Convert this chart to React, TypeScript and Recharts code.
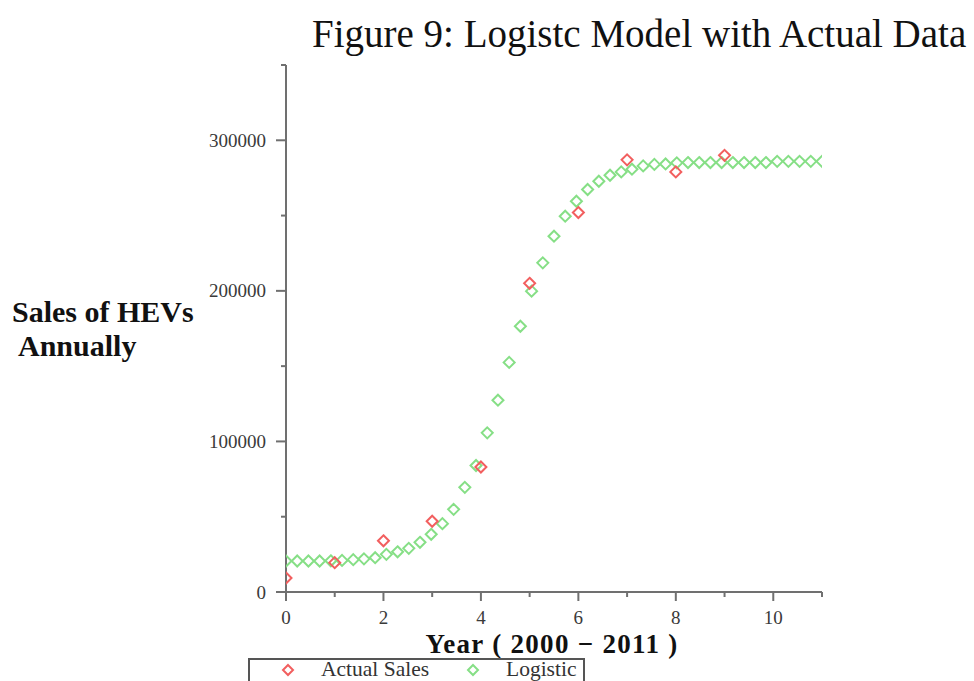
import { ScatterChart, Scatter, XAxis, YAxis, Legend } from 'recharts';

// years since 2000
const actualYears = [0, 1, 2, 3, 4, 5, 6, 7, 8, 9];
const actualSales = [9300, 19500, 34000, 47000, 83000, 205000, 252000, 287000, 279000, 290000];

// logistic fit, sampled points as plotted
const logisticX = [
  0, 0.23, 0.46, 0.69, 0.92, 1.15, 1.38, 1.6, 1.83, 2.06, 2.29, 2.52, 2.75, 2.98, 3.21, 3.44, 3.67,
  3.9, 4.13, 4.35, 4.58, 4.81, 5.04, 5.27, 5.5, 5.73, 5.96, 6.19, 6.42, 6.65, 6.88, 7.1, 7.33,
  7.56, 7.79, 8.02, 8.25, 8.48, 8.71, 8.94, 9.17, 9.4, 9.63, 9.85, 10.08, 10.31, 10.54, 10.77, 11,
];
const logisticY = [
  20600, 20600, 20600, 20600, 20700, 21000, 21500, 22000, 22800, 25000, 26700, 29000, 33000,
  38300, 45400, 54900, 69500, 84000, 105700, 127400, 152500, 176500, 199800, 218600, 236300,
  249600, 259500, 267300, 272800, 276800, 279000, 280800, 283000, 284000, 284300, 285000,
  285200, 285200, 285200, 285200, 285200, 285200, 285200, 285200, 286000, 286000, 286000,
  286000, 286000,
];

const xTicks = [0, 1, 2, 3, 4, 5, 6, 7, 8, 9, 10, 11];
const yTicks = [0, 50000, 100000, 150000, 200000, 250000, 300000, 350000];

const RED = '#f25f5f';
const GREEN = '#86df86';
const AXIS = '#707070';

const actualData = actualYears.map((x, i) => ({ x, y: actualSales[i] }));
const logisticData = logisticX.map((x, i) => ({ x, y: logisticY[i] }));

const diamond = (color: string, r = 5.5) => (props: any) => {
  const { cx, cy } = props;
  if (cx == null || cy == null) return <g />;
  return (
    <polygon
      points={`${cx},${cy - r} ${cx + r},${cy} ${cx},${cy + r} ${cx - r},${cy}`}
      fill="none"
      stroke={color}
      strokeWidth={2}
    />
  );
};

const YTick = (props: any) => {
  const { x, y, payload } = props;
  const v = payload.value as number;
  const major = v % 100000 === 0;
  return (
    <g>
      <line x1={x - (major ? 10 : 5)} x2={x} y1={y} y2={y} stroke={AXIS} strokeWidth={2} />
      {major && v <= 300000 && (
        <text x={x - 20} y={y} textAnchor="end" dominantBaseline="central"
          fontSize={19} fill="#3a3a3a" fontFamily='"Liberation Serif", serif'>
          {v}
        </text>
      )}
    </g>
  );
};

const XTick = (props: any) => {
  const { x, y, payload } = props;
  const v = payload.value as number;
  const major = v % 2 === 0 && v <= 10;
  return (
    <g>
      <line x1={x} x2={x} y1={y} y2={y + (major ? 9 : 5)} stroke={AXIS} strokeWidth={2} />
      {major && (
        <text x={x} y={y + 25} textAnchor="middle" dominantBaseline="central"
          fontSize={19} fill="#3a3a3a" fontFamily='"Liberation Serif", serif'>
          {v}
        </text>
      )}
    </g>
  );
};

const legendItems = [
  { name: 'Actual Sales', color: RED, mark: 38, text: 71 },
  { name: 'Logistic', color: GREEN, mark: 223, text: 256 },
];

const LegendBox = () => (
  <div style={{ position: 'relative', width: 337, height: 23, borderTop: '2px solid #555', borderLeft: '2px solid #555', borderRight: '2px solid #555', boxSizing: 'border-box', background: '#fff' }}>
    {legendItems.map((it) => (
      <div key={it.name}>
        <svg style={{ position: 'absolute', left: it.mark - 7, top: 3 }} width={14} height={14}>
          <polygon points="7,2 12,7 7,12 2,7" fill="none" stroke={it.color} strokeWidth={2} />
        </svg>
        <span style={{ position: 'absolute', left: it.text, top: -1, fontSize: 21.5, color: '#333', whiteSpace: 'nowrap', lineHeight: '21px' }}>
          {it.name}
        </span>
      </div>
    ))}
  </div>
);

export default function App() {
  return (
    <div style={{ position: 'absolute', left: 0, top: 0, width: 974, height: 681, background: '#fff', fontFamily: '"Liberation Serif", serif', overflow: 'hidden' }}>
      <div style={{ position: 'absolute', left: 312, top: 12, fontSize: 39, lineHeight: '44px', color: '#111', whiteSpace: 'nowrap' }}>
        Figure 9: Logistc Model with Actual Data
      </div>
      <div style={{ position: 'absolute', left: 12, top: 295, fontSize: 30, fontWeight: 'bold', lineHeight: '34px', color: '#111', whiteSpace: 'nowrap' }}>
        Sales of HEVs
        <br />
        <span style={{ paddingLeft: 6 }}>Annually</span>
      </div>
      <div style={{ position: 'absolute', left: 552, top: 629, transform: 'translateX(-50%)', fontSize: 27, fontWeight: 'bold', lineHeight: '30px', letterSpacing: 1.3, color: '#111', whiteSpace: 'nowrap' }}>
        Year ( 2000 − 2011 )
      </div>
      <ScatterChart width={974} height={681} margin={{ top: 65, right: 152, bottom: 59, left: 206 }}>
        <XAxis type="number" dataKey="x" domain={[0, 11]} ticks={xTicks} height={30}
          axisLine={{ stroke: AXIS, strokeWidth: 2 }} tickLine={false} tickSize={0} tickMargin={0}
          tick={<XTick />} interval={0} allowDataOverflow />
        <YAxis type="number" dataKey="y" domain={[0, 350000]} ticks={yTicks} width={80}
          axisLine={{ stroke: AXIS, strokeWidth: 2 }} tickLine={false} tickSize={0} tickMargin={0}
          tick={<YTick />} interval={0} allowDataOverflow />
        <Legend layout="horizontal" verticalAlign="middle" align="center"
          wrapperStyle={{ left: 248, top: 658, width: 337, height: 23 }}
          content={() => <LegendBox />} />
        <Scatter name="Logistic" data={logisticData} shape={diamond(GREEN)} isAnimationActive={false} />
        <Scatter name="Actual Sales" data={actualData} shape={diamond(RED)} isAnimationActive={false} />
      </ScatterChart>
    </div>
  );
}
